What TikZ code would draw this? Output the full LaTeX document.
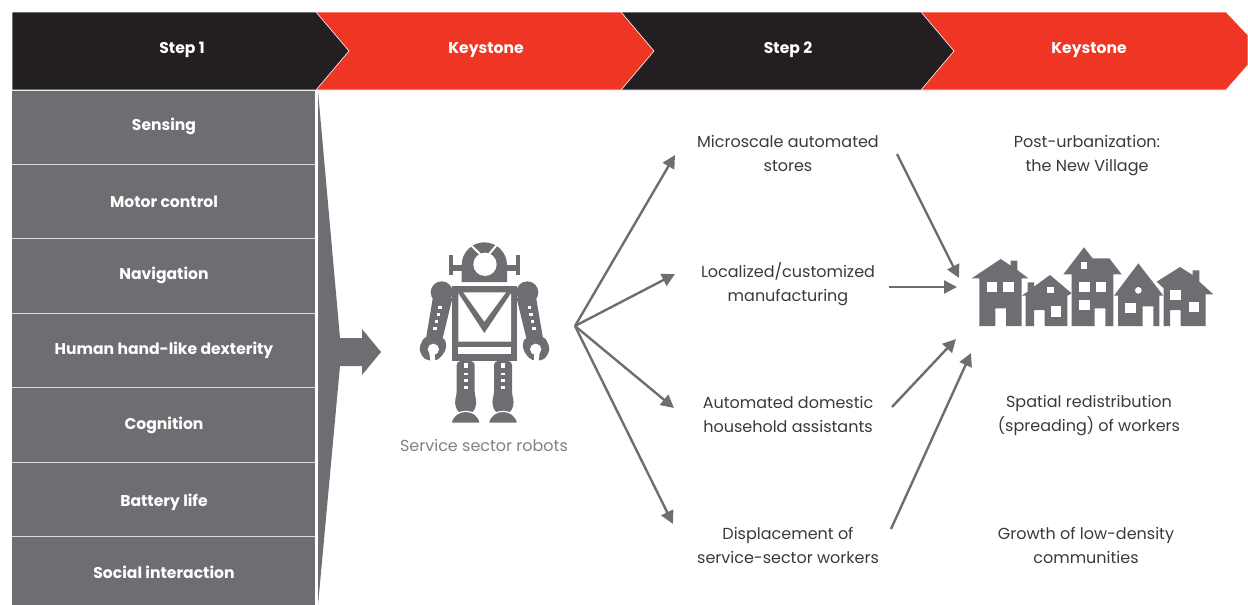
\documentclass[tikz,border=0pt]{standalone}
\usepackage{fontspec}
\setmainfont{Poppins}
\usetikzlibrary{arrows.meta}

\definecolor{stepblack}{HTML}{231F20}
\definecolor{keyred}{HTML}{EF3524}
\definecolor{robotgray}{HTML}{6D6E71}
\definecolor{bodytext}{HTML}{3A3A3C}
\definecolor{captiongray}{HTML}{808285}

\tikzset{
    headtext/.style={text=white, font=\fontsize{7.8}{10}\selectfont\bfseries},
    celltext/.style={text=white, font=\fontsize{7.8}{10}\selectfont\bfseries},
    bodylabel/.style={text=bodytext, align=center, font=\fontsize{8}{12}\selectfont},
    flow/.style={-{Triangle[length=6.5pt, width=6.5pt]}, robotgray, line width=1.2pt},
}

\begin{document}
\begin{tikzpicture}[x=0.5pt, y=-0.5pt]
                \useasboundingbox (0, 0) rectangle (1248, 605);

                \fill[keyred, draw=white, line width=0.3pt] (921, 12) -- (1226, 12) -- (1248, 35) -- (1248, 65) -- (1226, 90) -- (921, 90) -- cycle;
                \fill[stepblack, draw=white, line width=0.3pt] (621, 12) -- (921, 12) -- (954, 51) -- (921, 90) -- (621, 90) -- cycle;
                \fill[keyred, draw=white, line width=0.3pt] (316, 12) -- (621, 12) -- (654, 51) -- (621, 90) -- (316, 90) -- cycle;
                \fill[stepblack, draw=white, line width=0.3pt] (12, 12) -- (316, 12) -- (349, 51) -- (316, 90) -- (12, 90) -- cycle;

                \node[headtext] (stepone) at (182, 50) {Step 1};
                \node[headtext] (keyone) at (486, 50) {Keystone};
                \node[headtext] (steptwo) at (788, 50) {Step 2};
                \node[headtext] (keytwo) at (1089, 50) {Keystone};

                \fill[robotgray] (12, 91) rectangle (315, 605);
                \foreach \ysep in {164.5, 238.5, 313.5, 387.5, 462.5, 536.5}
                    \draw[white!75!robotgray, line width=0.5pt] (12, \ysep) -- (315, \ysep);

                \node[celltext] (sensing) at (164, 126) {Sensing};
                \node[celltext] (motor) at (164, 202) {Motor control};
                \node[celltext] (navigation) at (164, 275) {Navigation};
                \node[celltext] (dexterity) at (164, 350) {Human hand-like dexterity};
                \node[celltext] (cognition) at (164, 425) {Cognition};
                \node[celltext] (battery) at (164, 502) {Battery life};
                \node[celltext] (social) at (164, 572) {Social interaction};

                \fill[robotgray] (318, 91) -- (340, 338) -- (362, 338) -- (362, 329) -- (381, 352) -- (362, 375) -- (362, 366) -- (340, 366) -- (318, 605) -- cycle;

                % robot
                \begin{scope}[shift={(400, 230)}, scale=1/3]
                    \fill[robotgray] (185, 105) .. controls (185, 67.5) and (215.5, 37) .. (253, 37) .. controls (290.5, 37) and (321, 67.5) .. (321, 105) -- (321, 156) -- (185, 156) -- cycle;
                    \fill[robotgray] (150, 104) rectangle (190, 122);
                    \fill[robotgray] (146, 75) rectangle (160, 135);
                    \fill[robotgray] (315, 104) rectangle (360, 122);
                    \fill[robotgray] (347, 75) rectangle (361, 135);
                    \fill[white] (255, 103) circle (35);
                    \draw[white, line width=1pt] (208, 41) -- (245, 77);
                    \draw[white, line width=1pt] (298, 36) -- (265, 75);

                    \foreach \mirx/\mirs in {0/1, 507/-1} {
                        \begin{scope}[shift={(\mirx, 0)}, xscale=\mirs]
                            \fill[robotgray] (125, 187) circle (33);
                            \fill[robotgray] (100, 195) -- (157, 205) -- (128, 325) -- (78, 325) -- cycle;
                            \fill[robotgray, rounded corners=2pt] (72, 320) -- (56, 358) -- (74, 390) -- (112, 392) -- (136, 365) -- (140, 338) -- (130, 322) -- cycle;
                            \fill[white] (100, 358) circle (17);
                            \fill[white] (88, 368) -- (104, 372) -- (106, 398) -- (92, 398) -- cycle;
                        \end{scope}
                    }

                    \fill[robotgray] (157, 168) rectangle (350, 393);
                    \fill[white] (175, 190) -- (253, 310) -- (333, 190) -- (333, 335) -- (175, 335) -- cycle;
                    \fill[white] (190, 187) -- (318, 187) -- (253, 275) -- cycle;
                    \fill[white] (175, 352) rectangle (333, 373);

                    \foreach \sqx/\sqy in {120/232, 115/253, 110/275, 105/295, 388/232, 393/253, 398/275, 402/295}
                        \fill[white] (\sqx - 5, \sqy - 5) rectangle (\sqx + 5, \sqy + 5);

                    \foreach \legx in {197, 309} {
                        \fill[robotgray, rounded corners=2pt] (\legx - 27, 393) -- (\legx + 27, 393) -- (\legx + 27, 495) -- (\legx + 34, 518) -- (\legx + 22, 550) -- (\legx - 22, 550) -- (\legx - 34, 518) -- (\legx - 27, 495) -- cycle;
                        \fill[robotgray, draw=white, line width=0.6pt] (\legx - 44, 580) .. controls (\legx - 40, 556) and (\legx - 20, 544) .. (\legx, 544) .. controls (\legx + 20, 544) and (\legx + 40, 556) .. (\legx + 44, 580) -- cycle;
                        \fill[white] (\legx - 6, 400) rectangle (\legx + 6, 415);
                        \foreach \legy in {428, 448, 468}
                            \fill[white] (\legx - 6, \legy) rectangle (\legx + 6, \legy + 8);
                    }
                \end{scope}

                \node[text=captiongray, font=\fontsize{8}{12}\selectfont] (robots) at (484, 445) {Service sector robots};

                % houses
                \begin{scope}[shift={(960, 235)}, scale=1/3]
                    \fill[robotgray] (35, 130) -- (122, 72) -- (152, 92) -- (152, 77) -- (172, 77) -- (172, 105) -- (205, 130) -- (185, 130) -- (185, 273) -- (138, 273) -- (138, 220) -- (106, 220) -- (106, 273) -- (58, 273) -- (58, 130) -- cycle;
                    \fill[white] (80, 142) rectangle (112, 172);
                    \fill[white] (130, 142) rectangle (162, 172);

                    \fill[robotgray] (185, 182) -- (203, 170) -- (203, 142) -- (222, 142) -- (222, 155) -- (270, 120) -- (335, 175) -- (322, 182) -- (322, 273) -- (254, 273) -- (254, 225) -- (222, 225) -- (222, 273) -- (197, 273) -- (197, 182) -- cycle;
                    \fill[white] (272, 214) rectangle (304, 245);
                    \fill[white] (262, 155) rectangle (282, 173);

                    \fill[robotgray] (310, 118) -- (372, 37) -- (398, 70) -- (448, 70) -- (485, 118) -- (460, 118) -- (460, 273) -- (436, 273) -- (436, 220) -- (404, 220) -- (404, 273) -- (335, 273) -- (335, 118) -- cycle;
                    \fill[white] (362, 82) rectangle (382, 101);
                    \fill[white] (357, 142) rectangle (389, 172);
                    \fill[white] (407, 142) rectangle (439, 172);
                    \fill[white] (357, 196) rectangle (389, 226);

                    \fill[robotgray] (462, 182) -- (535, 85) -- (610, 182) -- (598, 182) -- (598, 273) -- (580, 273) -- (580, 214) -- (548, 214) -- (548, 273) -- (474, 273) -- (474, 182) -- cycle;
                    \fill[white] (495, 203) rectangle (527, 233);
                    \fill[white] (535, 166) circle (10);

                    \fill[robotgray] (590, 140) -- (660, 96) -- (698, 120) -- (698, 106) -- (718, 106) -- (718, 140) -- (760, 178) -- (737, 178) -- (737, 273) -- (662, 273) -- (662, 225) -- (630, 225) -- (630, 273) -- (611, 273) -- (611, 160) -- cycle;
                    \fill[white] (630, 166) rectangle (662, 196);
                    \fill[white] (686, 202) rectangle (718, 232);
                \end{scope}

                \node[bodylabel] (stores) at (788, 153) {Microscale automated\\stores};
                \node[bodylabel] (manufacturing) at (788, 284) {Localized/customized\\manufacturing};
                \node[bodylabel] (assistants) at (788, 414) {Automated domestic\\household assistants};
                \node[bodylabel] (displacement) at (788, 545) {Displacement of\\service-sector workers};
                \node[bodylabel] (village) at (1087, 156) {Post-urbanization:\\ the New Village};
                \node[bodylabel] (spreading) at (1089, 416) {Spatial redistribution\\(spreading) of workers};
                \node[bodylabel] (growth) at (1086, 545) {Growth of low-density\\communities};

                \coordinate (hub) at (575, 326);
                \coordinate (storesin) at (675, 155);
                \coordinate (manufin) at (675, 274);
                \coordinate (assistin) at (674, 408);
                \coordinate (dispin) at (673, 524);
                \coordinate (storesout) at (897, 154);
                \coordinate (manufout) at (889, 287);
                \coordinate (assistout) at (892, 407);
                \coordinate (dispout) at (891, 529);
                \coordinate (townone) at (959, 278);
                \coordinate (towntwo) at (957, 287);
                \coordinate (townthree) at (956, 339);
                \coordinate (townfour) at (971, 353);

                \draw[flow] (hub) -- (storesin);
                \draw[flow] (hub) -- (manufin);
                \draw[flow] (hub) -- (assistin);
                \draw[flow] (hub) -- (dispin);
                \draw[flow] (storesout) -- (townone);
                \draw[flow] (manufout) -- (towntwo);
                \draw[flow] (assistout) -- (townthree);
                \draw[flow] (dispout) -- (townfour);
            \end{tikzpicture}
\end{document}
